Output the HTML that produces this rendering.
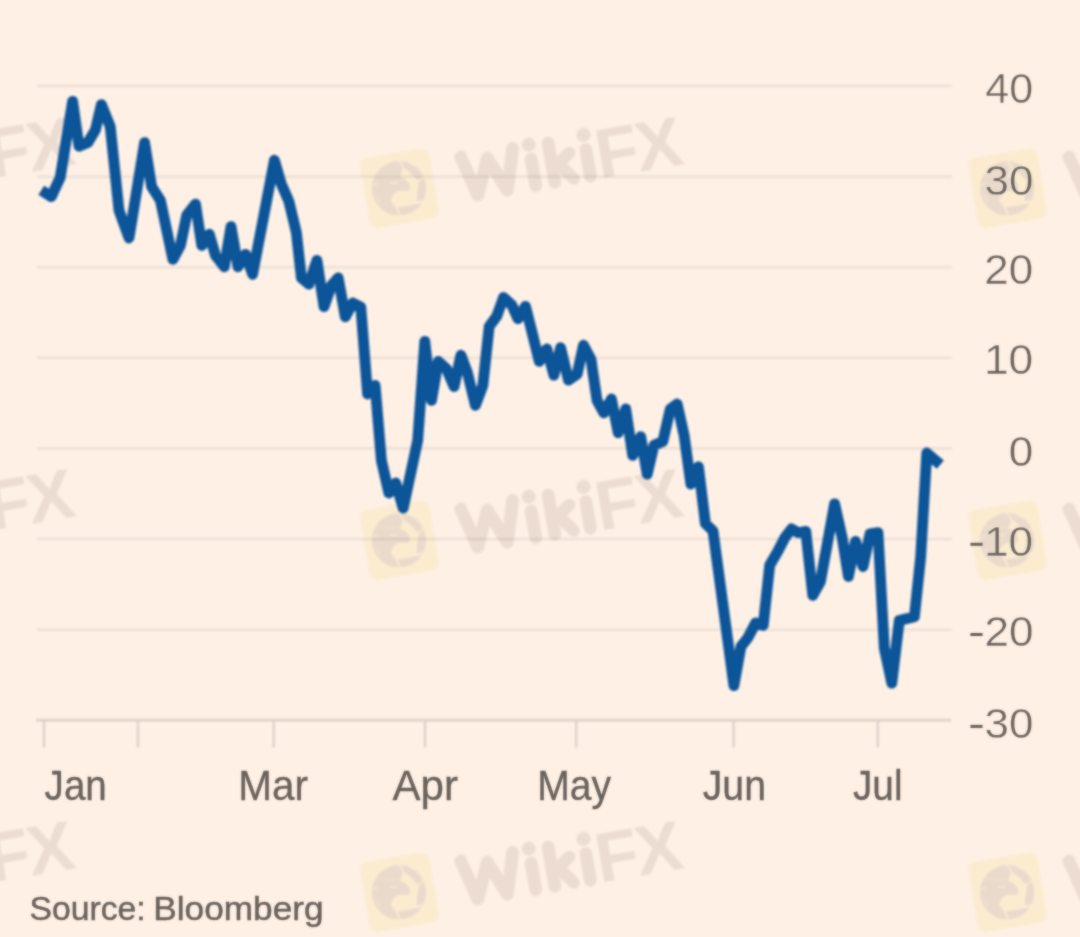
<!DOCTYPE html>
<html><head><meta charset="utf-8"><title>Chart</title>
<style>
html,body{margin:0;padding:0;background:#fef0e5;}
body{width:1080px;height:937px;overflow:hidden;font-family:"Liberation Sans",sans-serif;}
svg{display:block;}
text{font-family:"Liberation Sans",sans-serif;}
</style></head><body>
<svg width="1080" height="937" viewBox="0 0 1080 937">
<defs>
<filter id="soft" x="-5%" y="-5%" width="110%" height="110%"><feGaussianBlur stdDeviation="1" result="b"/><feComposite in="b" in2="SourceGraphic" operator="arithmetic" k1="0" k2="0.6" k3="0.4" k4="0"/></filter>
<filter id="soft3" x="-5%" y="-50%" width="110%" height="200%" filterUnits="userSpaceOnUse"><feGaussianBlur stdDeviation="0.9"/></filter>
<filter id="softL" x="-5%" y="-5%" width="110%" height="110%"><feGaussianBlur stdDeviation="1.1"/></filter>
<filter id="soft2" x="-5%" y="-5%" width="110%" height="110%"><feGaussianBlur stdDeviation="1.1"/></filter>
<g id="wm">
  <g transform="rotate(-9.6)">
    <rect x="-35.4" y="-35.6" width="70.4" height="71.2" rx="7" fill="#fcfbe8"/>
    <g fill="none" stroke="#edeae9" stroke-width="12.6" stroke-linecap="round" stroke-linejoin="round">
      <path d="M65.5,-20.5 L76,20 L91.5,-15 L106,20 L118,-20.5"/>
      <path d="M134.6,-6.6 L134.6,20.2"/>
      <path d="M154,-19.5 L154,20"/>
      <path d="M156,6 L173.2,-6.2" stroke-width="12"/>
      <path d="M162,4 L173.4,19.8" stroke-width="12"/>
      <path d="M190.1,-7 L190.1,20"/>
    </g>
    <circle cx="134.7" cy="-21.4" r="6.9" fill="#edeae9"/>
    <circle cx="190.2" cy="-21.7" r="6.9" fill="#edeae9"/>
    <g font-size="69.7" font-weight="bold" fill="#edeae9">
      <text x="199" y="24">F</text><text x="239.4" y="24">X</text>
    </g>
  </g>
  <g transform="translate(-0.6,0.2)">
  <circle r="27.2" fill="#ebe8e4"/>
  <path d="M4.7,-20.0 L9.4,-16.7 L13.4,-13.1 L19.4,-6.9 L18.7,-1.5 L17.8,3.6 L16.9,13.2 L25.6,12.3 L24.3,14.4 L-2.5,19.2 L-7.6,11.6 L-6.5,8.0 L-4.0,5.1 L-0.4,2.9 L9.4,2.9 L11.6,-0.7 L10.5,-5.1 L6.5,-9.1 L1.1,-12.3 Z" fill="#fcfbe8" stroke="#fcfbe8" stroke-width="0.6" stroke-linejoin="round"/>
  <g stroke="#fcfbe8" fill="none" stroke-linecap="round" stroke-linejoin="round">
    <path d="M0.0,-27.7 L4.9,-19.8" stroke-width="1.7"/>
    <path d="M19.4,-6.9 L24.9,-11.9" stroke-width="1.3"/>
    <path d="M-7.6,11.6 L-2.5,19.2 L1.2,27.6" stroke-width="1.4"/>
    <path d="M-22.1,8.0 L-20.0,13.1" stroke-width="1"/>
    <path d="M-25.6,-2.9 L-22.1,-4.4" stroke-width="1"/>
    <path d="M-6.9,-5.3 L-3.3,-5.2" stroke-width="1.7"/>
    <path d="M-23.2,-14.5 L-11.3,-13.2 L1.1,-12.3" stroke-width="0.7" opacity="0.6"/>
  </g>
  </g>
</g>
</defs>
<rect width="1080" height="937" fill="#fef0e5"/>

<g stroke="#ede0d6" stroke-width="2.6" filter="url(#soft3)">
<line x1="36.8" y1="86.0" x2="952" y2="86.0"/>
<line x1="36.8" y1="176.6" x2="952" y2="176.6"/>
<line x1="36.8" y1="267.2" x2="952" y2="267.2"/>
<line x1="36.8" y1="357.8" x2="952" y2="357.8"/>
<line x1="36.8" y1="448.4" x2="952" y2="448.4"/>
<line x1="36.8" y1="539.0" x2="952" y2="539.0"/>
<line x1="36.8" y1="629.7" x2="952" y2="629.7"/>
<line x1="36.2" y1="720.1" x2="951" y2="720.1" stroke="#ddd1c8"/>
<line x1="44" y1="720.1" x2="44" y2="747.6" stroke="#ddd1c8" stroke-width="2.4"/>
<line x1="138" y1="720.1" x2="138" y2="747.6" stroke="#ddd1c8" stroke-width="2.4"/>
<line x1="273.7" y1="720.1" x2="273.7" y2="747.6" stroke="#ddd1c8" stroke-width="2.4"/>
<line x1="425" y1="720.1" x2="425" y2="747.6" stroke="#ddd1c8" stroke-width="2.4"/>
<line x1="576.2" y1="720.1" x2="576.2" y2="747.6" stroke="#ddd1c8" stroke-width="2.4"/>
<line x1="733.6" y1="720.1" x2="733.6" y2="747.6" stroke="#ddd1c8" stroke-width="2.4"/>
<line x1="877.8" y1="720.1" x2="877.8" y2="747.6" stroke="#ddd1c8" stroke-width="2.4"/>
</g>
<g filter="url(#soft2)" style="mix-blend-mode:multiply">
<use href="#wm" x="-208.60000000000002" y="188.1"/>
<use href="#wm" x="399.6" y="188.1"/>
<use href="#wm" x="1007.8000000000001" y="188.1"/>
<use href="#wm" x="-208.60000000000002" y="540.1"/>
<use href="#wm" x="399.6" y="540.1"/>
<use href="#wm" x="1007.8000000000001" y="540.1"/>
<use href="#wm" x="-208.60000000000002" y="892.1"/>
<use href="#wm" x="399.6" y="892.1"/>
<use href="#wm" x="1007.8000000000001" y="892.1"/>
</g>
<g fill="#69615b" filter="url(#soft)">
<g stroke="#fef0e5" stroke-width="0.35">
<text x="985.37" y="102.6" font-size="42.8" textLength="47.84" lengthAdjust="spacingAndGlyphs">40</text>
<text x="984.50" y="194.5" font-size="42.8" textLength="48.98" lengthAdjust="spacingAndGlyphs">30</text>
<text x="984.35" y="284.4" font-size="42.8" textLength="48.88" lengthAdjust="spacingAndGlyphs">20</text>
<text x="984.01" y="374.2" font-size="42.8" textLength="49.23" lengthAdjust="spacingAndGlyphs">10</text>
<text x="1008.84" y="466.1" font-size="42.8" textLength="24.52" lengthAdjust="spacingAndGlyphs">0</text>
<text x="984.01" y="555.7" font-size="42.8" textLength="49.23" lengthAdjust="spacingAndGlyphs">10</text>
<rect x="970.4" y="542.8" width="12.2" height="3.0" stroke="none"/>
<text x="984.41" y="645.9" font-size="42.8" textLength="49.08" lengthAdjust="spacingAndGlyphs">20</text>
<rect x="970.4" y="633.0" width="12.2" height="3.0" stroke="none"/>
<text x="984.50" y="737.8" font-size="42.8" textLength="48.98" lengthAdjust="spacingAndGlyphs">30</text>
<rect x="970.4" y="724.9" width="12.2" height="3.0" stroke="none"/>
</g>
<g stroke="#69615b" stroke-width="0.35">
<text x="44.61" y="799.7" font-size="43" textLength="62.21" lengthAdjust="spacingAndGlyphs">Jan</text>
<text x="238.26" y="799.7" font-size="43" textLength="69.75" lengthAdjust="spacingAndGlyphs">Mar</text>
<text x="392.56" y="799.7" font-size="43" textLength="65.44" lengthAdjust="spacingAndGlyphs">Apr</text>
<text x="537.24" y="799.7" font-size="43" textLength="73.93" lengthAdjust="spacingAndGlyphs">May</text>
<text x="702.77" y="799.7" font-size="43" textLength="63.19" lengthAdjust="spacingAndGlyphs">Jun</text>
<text x="852.98" y="799.7" font-size="43" textLength="49.55" lengthAdjust="spacingAndGlyphs">Jul</text>
</g>
<g stroke="#69615b" stroke-width="0.45" font-size="32.8">
<text x="29.58" y="920" textLength="116.15" lengthAdjust="spacingAndGlyphs">Source:</text>
<text x="153.30" y="920" textLength="170.31" lengthAdjust="spacingAndGlyphs">Bloomberg</text>
</g>
</g>
<polyline points="41.3,190.3 51.3,196.6 60.1,177.8 72.6,101.3 79.0,146.3 87.8,142.6 95.4,130 101.4,104.6 110.2,126.4 119,210.4 129,238 144.6,142.7 151.6,186.6 160.4,200.4 172.9,259.3 180.4,245.5 186.7,215.4 195.5,204.1 201.8,245.5 209.3,234.2 215.5,255.5 224.3,266.8 231,226.7 238,266.8 245.6,254.3 252.6,274.3 274.4,160.2 281.3,183.9 288.9,201.4 296.4,232.8 301.4,277.9 308.9,284.2 316.9,260.4 324,306.7 331.5,285.4 338.2,277.9 345.3,316.8 352.8,303 360.8,307 367.6,394 375.1,385.3 381.4,460.5 388.9,493 395.7,483 403.2,508.1 417.7,440.4 424.8,341.4 431.5,400.3 438.3,361.4 446.6,369 454.1,386.5 460.9,355.2 467.4,372.7 475.4,405.3 482.9,385.3 489.2,326.4 496.7,316.3 503.5,297.5 511.8,305 518,318.8 525.5,306.3 539.3,361.4 546.8,348.9 553.9,375.2 560.6,347.7 568.5,380.2 577.2,374 583.5,345.2 591,359.5 597,400.3 603.9,412.8 611.4,399 618.2,432.8 625.7,409 632.7,455.4 640.7,436.6 647.2,474.2 654,445.3 662.8,441.6 670.3,409 677.1,404 684.1,435.3 690.9,484.2 698.4,466.7 705.4,523.5 713,531 733.9,685.6 740.9,646.7 747.7,638 755.7,622.9 763.2,625.4 769.7,565.3 777.7,551.5 784.8,537.7 791.5,528.9 798.3,532.7 805.8,531.4 812.8,595.3 820.4,581.6 834.6,503.8 842.2,537.7 848.4,576.5 855.5,541.4 863,566.5 870,533.9 878,532.7 884.3,648 891.8,683.1 899.3,620.4 914.4,616.7 920.6,557.7 926.8,453 940.3,464.6" fill="none" stroke="#0f5499" stroke-width="10.8" stroke-linejoin="round" stroke-linecap="butt" filter="url(#softL)"/>
</svg></body></html>
